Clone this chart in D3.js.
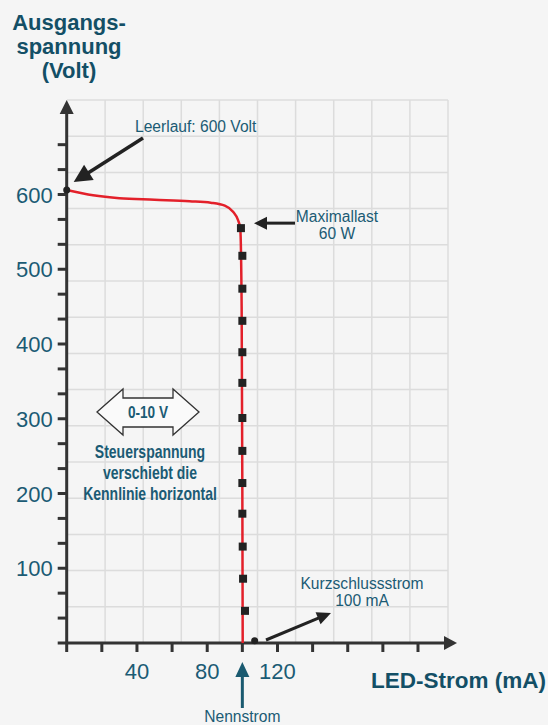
<!DOCTYPE html>
<html>
<head>
<meta charset="utf-8">
<script src="https://cdn.jsdelivr.net/npm/d3@7"></script>
<style>
    body { margin: 0; background: #f5f5f5; }
    svg { display: block; font-family: "Liberation Sans", Arial, sans-serif; }
    .teal { fill: #1b5b74; }
</style>
</head>
<body>
<svg id="chart" width="548" height="725"></svg>
<script>
// characteristic curve (LED current in mA, output voltage in V)
const curveCurrent = [0, 15, 30, 50, 70, 82, 90, 94.7, 97.5, 98.8, 99.6, 100, 100.2];
const curveVoltage = [606, 599, 595, 593, 591, 589, 585, 577, 566, 555, 450, 200, 0];

// black squares along the max-load part
const loadCurrent = [99.2, 100, 100, 100, 100, 100, 100, 100, 100, 100, 100.2, 100.4, 101.5];
const loadVoltage = [555, 518, 474, 431, 389, 348, 301, 257, 214, 173, 129, 86, 43];

const xTicks = [0, 20, 40, 60, 80, 100, 120, 140, 160, 180, 200];
const xLabels = [40, 80, 120];
const yTicks = d3.range(0, 21).map(i => i * 100 / 3);
const yLabels = [100, 200, 300, 400, 500, 600];

const openCircuit = {current: 0, voltage: 606};
const shortCircuit = {current: 107, voltage: 3};

const width = 548, height = 725;
const svg = d3.select("#chart");

svg.append("rect").attr("width", width).attr("height", height).attr("fill", "#f5f5f5");

const x = d3.scaleLinear().domain([0, 200]).range([66.7, 418]);
const y = d3.scaleLinear().domain([0, 700]).range([643, 119.75]);

// background grid (it does not follow the ticks)
const gridX = d3.scaleLinear().domain([0, 10]).range([67, 448]);
const gridY = d3.scaleLinear().domain([0, 15]).range([643, 100]);

const grid = svg.append("g").attr("stroke", "#dcdcdc").attr("stroke-width", 1.5);
grid.selectAll(".gv")
    .data(d3.range(1, 11))
    .join("line")
    .attr("x1", d => gridX(d)).attr("x2", d => gridX(d))
    .attr("y1", gridY(15)).attr("y2", gridY(0));
grid.selectAll(".gh")
    .data(d3.range(1, 16))
    .join("line")
    .attr("x1", gridX(0)).attr("x2", gridX(10))
    .attr("y1", d => gridY(d)).attr("y2", d => gridY(d));

// axes
const axisColor = "#333";
const axes = svg.append("g").attr("stroke", axisColor).attr("stroke-width", 3);

axes.append("line")
    .attr("x1", x(0) - 9).attr("x2", 446)
    .attr("y1", y(0)).attr("y2", y(0));
axes.append("line")
    .attr("x1", x(0)).attr("x2", x(0))
    .attr("y1", y(0) + 9).attr("y2", 112);

axes.selectAll(".yt")
    .data(yTicks.slice(1))
    .join("line")
    .attr("x1", x(0) - 9).attr("x2", x(0))
    .attr("y1", d => y(d)).attr("y2", d => y(d));

axes.selectAll(".xt")
    .data(xTicks.slice(1))
    .join("line")
    .attr("x1", d => x(d)).attr("x2", d => x(d))
    .attr("y1", y(0)).attr("y2", y(0) + 9);

// arrow heads on the axes
svg.append("path")
    .attr("d", `M${x(0)},100 L${x(0) - 7},114 L${x(0) + 7},114 Z`)
    .attr("fill", axisColor);
svg.append("path")
    .attr("d", `M457,${y(0)} L444,${y(0) - 7} L444,${y(0) + 7} Z`)
    .attr("fill", axisColor);

// tick labels
svg.selectAll(".ylab")
    .data(yLabels)
    .join("text")
    .attr("class", "teal")
    .attr("x", x(0) - 14)
    .attr("y", d => y(d) + 8)
    .attr("text-anchor", "end")
    .attr("font-size", 22)
    .text(d => d);

svg.selectAll(".xlab")
    .data(xLabels)
    .join("text")
    .attr("class", "teal")
    .attr("x", d => x(d))
    .attr("y", 679)
    .attr("text-anchor", "middle")
    .attr("font-size", 22)
    .text(d => d);

// axis titles
svg.append("text")
    .attr("fill", "#134f66")
    .attr("font-weight", "bold")
    .attr("font-size", 22)
    .attr("text-anchor", "middle")
    .selectAll("tspan")
    .data(["Ausgangs-", "spannung", "(Volt)"])
    .join("tspan")
    .attr("x", 69)
    .attr("y", (d, i) => 30 + i * 24)
    .text(d => d);

svg.append("text")
    .attr("fill", "#134f66")
    .attr("font-weight", "bold")
    .attr("font-size", 22.5)
    .attr("text-anchor", "end")
    .attr("x", 546)
    .attr("y", 688)
    .text("LED-Strom (mA)");

// red characteristic curve
const curveData = curveCurrent.map((c, i) => ({current: c, voltage: curveVoltage[i]}));
const line = d3.line()
    .x(d => x(d.current))
    .y(d => y(d.voltage))
    .curve(d3.curveMonotoneX);

svg.append("path")
    .datum(curveData)
    .attr("d", line)
    .attr("fill", "none")
    .attr("stroke", "#e3202a")
    .attr("stroke-width", 2.5);

const loadData = loadCurrent.map((c, i) => ({current: c, voltage: loadVoltage[i]}));
svg.selectAll(".sq")
    .data(loadData)
    .join("rect")
    .attr("x", d => x(d.current) - 4)
    .attr("y", d => y(d.voltage) - 4)
    .attr("width", 8)
    .attr("height", 8)
    .attr("fill", "#222");

svg.selectAll(".pt")
    .data([openCircuit, shortCircuit])
    .join("circle")
    .attr("cx", d => x(d.current))
    .attr("cy", d => y(d.voltage))
    .attr("r", 3.5)
    .attr("fill", "#222");

// arrow helper: straight shaft with a filled triangular head at (x2, y2)
function arrow(x1, y1, x2, y2, color, w, headLen, headW) {
    const a = Math.atan2(y2 - y1, x2 - x1);
    const bx = x2 - headLen * Math.cos(a), by = y2 - headLen * Math.sin(a);
    const g = svg.append("g");
    g.append("line")
        .attr("x1", x1).attr("y1", y1).attr("x2", bx + Math.cos(a)).attr("y2", by + Math.sin(a))
        .attr("stroke", color).attr("stroke-width", w);
    const px = -Math.sin(a) * headW / 2, py = Math.cos(a) * headW / 2;
    g.append("path")
        .attr("d", `M${x2},${y2} L${bx + px},${by + py} L${bx - px},${by - py} Z`)
        .attr("fill", color);
}

const noteSize = 15.6;

// Leerlauf
arrow(143, 138, x(openCircuit.current) + 7, y(openCircuit.voltage) - 8, "#222", 3.5, 18, 18);
svg.append("text").attr("class", "teal").attr("font-size", noteSize)
    .attr("x", 135).attr("y", 132).text("Leerlauf: 600 Volt");

// Maximallast
arrow(295, y(loadVoltage[0]) - 5, 254, y(loadVoltage[0]) - 5, "#222", 3, 13, 13);
svg.append("text").attr("class", "teal").attr("font-size", noteSize)
    .attr("text-anchor", "middle")
    .selectAll("tspan")
    .data(["Maximallast", "60 W"])
    .join("tspan")
    .attr("x", 337)
    .attr("y", (d, i) => 222 + i * 17)
    .text(d => d);

// Kurzschlussstrom
arrow(266, 640, 331, 613, "#222", 3, 14, 13);
svg.append("text").attr("class", "teal").attr("font-size", noteSize)
    .attr("text-anchor", "middle")
    .selectAll("tspan")
    .data(["Kurzschlussstrom", "100 mA"])
    .join("tspan")
    .attr("x", 362)
    .attr("y", (d, i) => 589 + i * 17)
    .text(d => d);

// Nennstrom
arrow(x(100), 708, x(100), 662, "#1a5a70", 3, 15, 14);
svg.append("text").attr("class", "teal").attr("font-size", noteSize)
    .attr("text-anchor", "middle")
    .attr("x", x(100)).attr("y", 722)
    .text("Nennstrom");

// double arrow "0-10 V"
const cx = 148, cy = 412;
const dbl = [[-51, 0], [-25, -23], [-25, -14], [25, -14], [25, -23], [51, 0], [25, 23], [25, 15], [-25, 15], [-25, 23]];
svg.append("path")
    .attr("d", "M" + dbl.map(p => `${cx + p[0]},${cy + p[1]}`).join(" L") + " Z")
    .attr("fill", "#fafafa")
    .attr("stroke", "#333")
    .attr("stroke-width", 1.3);

// condensed bold text: squeeze horizontally
svg.append("g")
    .attr("transform", `translate(${cx},${cy + 6}) scale(0.85,1)`)
    .append("text").attr("class", "teal")
    .attr("font-weight", "bold").attr("font-size", 16)
    .attr("text-anchor", "middle")
    .text("0-10 V");

svg.append("g")
    .attr("transform", "translate(150,0) scale(0.8,1)")
    .append("text").attr("class", "teal")
    .attr("font-weight", "bold").attr("font-size", 17.5)
    .attr("text-anchor", "middle")
    .selectAll("tspan")
    .data(["Steuerspannung", "verschiebt die", "Kennlinie horizontal"])
    .join("tspan")
    .attr("x", 0)
    .attr("y", (d, i) => 458 + i * 21)
    .text(d => d);
</script>
</body>
</html>
